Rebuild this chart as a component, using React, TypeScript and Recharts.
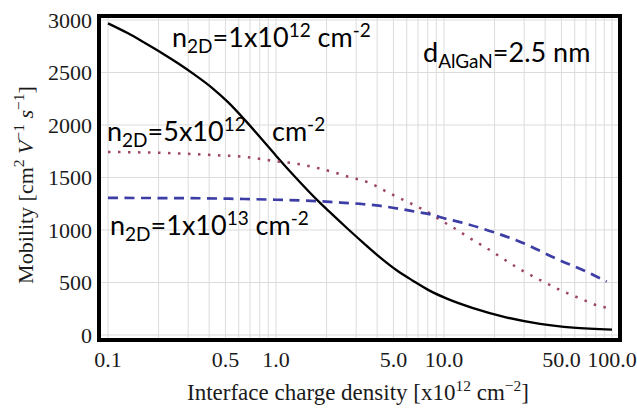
import React from 'react';
import {
  LineChart, Line, XAxis, YAxis, CartesianGrid, ReferenceArea,
} from 'recharts';

// curve for n2D = 1x10^12 (solid black)
const lowX = [0.1, 0.1316, 0.166, 0.21, 0.261, 0.329, 0.416, 0.518, 0.654, 0.826, 1.0, 1.26, 1.83, 2.1, 2.66, 3.31, 4.16, 5.25, 6.53, 8.26, 10.4, 14.9, 23.7, 37.3, 58.6, 100];
const lowY = [2968, 2873, 2781, 2684, 2588, 2477, 2354, 2217, 2046, 1862, 1708, 1529, 1258, 1167, 1014, 877, 739, 614, 517, 420, 346, 256, 166, 106, 70, 51];

// n2D = 5x10^12 (dotted)
const midX = [0.1, 0.2, 0.42, 0.66, 1.0, 1.35, 2.07, 2.72, 3.58, 4.58, 5.9, 6.8, 7.8, 9.9, 11.2, 12.5, 14.2, 18.3, 23.1, 29.5, 38.3, 49, 63.6, 83.7, 100];
const midY = [1743, 1735, 1714, 1695, 1655, 1629, 1562, 1505, 1450, 1362, 1276, 1229, 1181, 1078, 1029, 981, 924, 819, 714, 610, 514, 429, 352, 276, 250];

// n2D = 1x10^13 (dashed)
const highX = [0.1, 0.3, 0.6, 1.0, 1.8, 2.1, 3.2, 4.2, 5.5, 6.9, 8.6, 9.9, 13, 19.6, 29.5, 47, 71, 93];
const highY = [1305, 1303, 1296, 1288, 1274, 1267, 1248, 1229, 1200, 1171, 1143, 1114, 1067, 981, 876, 724, 600, 508];

const xTicks = [0.1, 0.2, 0.3, 0.4, 0.5, 0.6, 0.7, 0.8, 0.9, 1, 2, 3, 4, 5, 6, 7, 8, 9, 10, 20, 30, 40, 50, 60, 70, 80, 90, 100];
const xTickLabels: Record<string, string> = {
  '0.1': '0.1', '0.5': '0.5', '1': '1.0', '5': '5.0', '10': '10.0', '50': '50.0', '100': '100.0',
};
const yTicks = [0, 500, 1000, 1500, 2000, 2500, 3000];

const zip = (xs: number[], ys: number[]) => xs.map((x, i) => ({ x, y: ys[i] }));
const lowData = zip(lowX, lowY);
const midData = zip(midX, midY);
const highData = zip(highX, highY);

const X_DOMAIN: [number, number] = [0.0884, 111.6];
const Y_DOMAIN: [number, number] = [-48, 3038];

const serif = '"Liberation Serif", "Times New Roman", serif';
const sans = 'Lato, "Open Sans", sans-serif';

type Part = [string, 'n' | 'sup' | 'sub' | 'i'];

// text runs with sub/superscripts; dy is relative, so track the current shift
function Rich({ parts, small, up, down }: { parts: Part[]; small: number; up: number; down: number }) {
  let shift = 0;
  return (
    <>
      {parts.map(([t, kind], i) => {
        const target = kind === 'sup' ? -up : kind === 'sub' ? down : 0;
        const dy = target - shift;
        shift = target;
        return (
          <tspan
            key={i}
            dy={dy || undefined}
            fontSize={kind === 'sup' || kind === 'sub' ? small : undefined}
            fontStyle={kind === 'i' ? 'italic' : undefined}
          >
            {t}
          </tspan>
        );
      })}
    </>
  );
}

function Overlay() {
  return (
    <svg width={637} height={412} style={{ position: 'absolute', left: 0, top: 0, pointerEvents: 'none' }}>
      <text
        transform="translate(33,185) rotate(-90)"
        textAnchor="middle"
        fontFamily={serif}
        fontSize={22}
        fill="#1a1a1a"
      >
        <Rich
          small={15.5}
          up={9}
          down={0}
          parts={[['Mobility [cm', 'n'], ['2', 'sup'], [' V', 'i'], ['\u22121', 'sup'], [' s', 'i'], ['\u22121', 'sup'], [']', 'n']]}
        />
      </text>
      <text x={358} y={400} textAnchor="middle" fontFamily={serif} fontSize={23} fill="#1a1a1a">
        <Rich
          small={15.5}
          up={9}
          down={0}
          parts={[['Interface charge density [x10', 'n'], ['12', 'sup'], [' cm', 'n'], ['\u22122', 'sup'], [']', 'n']]}
        />
      </text>

      <g fontFamily={sans} fontSize={27} fill="#000">
        <text x={172} y={47}>
          <Rich small={19} up={10} down={6} parts={[['n', 'n'], ['2D', 'sub'], ['=1x10', 'n'], ['12', 'sup'], [' cm', 'n'], ['-2', 'sup']]} />
        </text>
        <text x={423} y={62}>
          <Rich small={19} up={10} down={6} parts={[['d', 'n'], ['AlGaN', 'sub'], ['=2.5 nm', 'n']]} />
        </text>
        <text x={107} y={141}>
          <Rich small={19} up={10} down={6} parts={[['n', 'n'], ['2D', 'sub'], ['=5x10', 'n'], ['12', 'sup']]} />
        </text>
        <text x={272} y={141}>
          <Rich small={19} up={10} down={6} parts={[['cm', 'n'], ['-2', 'sup']]} />
        </text>
        <text x={110} y={235}>
          <Rich small={19} up={10} down={6} parts={[['n', 'n'], ['2D', 'sub'], ['=1x10', 'n'], ['13', 'sup'], [' cm', 'n'], ['-2', 'sup']]} />
        </text>
      </g>
    </svg>
  );
}

export default function App() {
  return (
    <div style={{ position: 'absolute', left: 0, top: 0, width: 637, height: 412, background: '#fff' }}>
      <LineChart
        width={637}
        height={412}
        margin={{ top: 16, right: 17, bottom: 42, left: 19 }}
      >
        <CartesianGrid stroke="#dcdcdc" strokeWidth={1} />
        <XAxis
          dataKey="x"
          type="number"
          scale="log"
          domain={X_DOMAIN}
          allowDataOverflow
          ticks={xTicks}
          interval={0}
          tickFormatter={(v: number) => xTickLabels[String(v)] ?? ''}
          tick={{ fontFamily: serif, fontSize: 22, fill: '#1a1a1a' }}
          tickLine={false}
          tickSize={0}
          tickMargin={11}
          axisLine={false}
          height={30}
        />
        <YAxis
          type="number"
          domain={Y_DOMAIN}
          allowDataOverflow
          ticks={yTicks}
          interval={0}
          tick={{ fontFamily: serif, fontSize: 22, fill: '#1a1a1a' }}
          tickLine={false}
          tickSize={0}
          tickMargin={7}
          axisLine={false}
          width={80}
        />
        <Line
          data={lowData}
          dataKey="y"
          type="monotone"
          stroke="#000"
          strokeWidth={2.3}
          dot={false}
          isAnimationActive={false}
        />
        <Line
          data={midData}
          dataKey="y"
          type="monotone"
          stroke="#9c4660"
          strokeWidth={2.5}
          strokeDasharray="2.5 7.5"
          dot={false}
          isAnimationActive={false}
        />
        <Line
          data={highData}
          dataKey="y"
          type="monotone"
          stroke="#3d3da6"
          strokeWidth={2.7}
          strokeDasharray="10 6.5"
          dot={false}
          isAnimationActive={false}
        />
        <ReferenceArea
          x1={X_DOMAIN[0]}
          x2={X_DOMAIN[1]}
          y1={Y_DOMAIN[0]}
          y2={Y_DOMAIN[1]}
          fill="none"
          stroke="#000"
          strokeWidth={4}
          ifOverflow="visible"
        />
      </LineChart>
      <Overlay />
    </div>
  );
}
